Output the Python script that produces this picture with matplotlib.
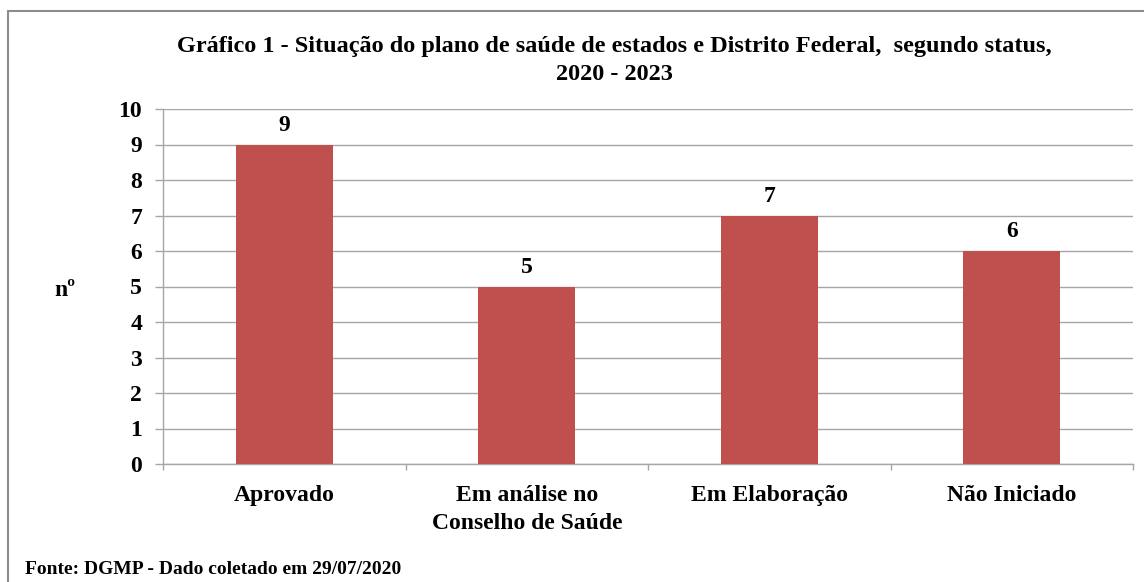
import numpy as np
import matplotlib.pyplot as plt
from matplotlib.patches import Rectangle

# dados
categorias = ['Aprovado', 'Em análise no\nConselho de Saúde', 'Em Elaboração', 'Não Iniciado']
valores = [9, 5, 7, 6]
y_ticks = list(range(0, 11))

titulo = 'Gráfico 1 - Situação do plano de saúde de estados e Distrito Federal,  segundo status,\n2020 - 2023'
fonte = 'Fonte: DGMP - Dado coletado em 29/07/2020'

plt.rcParams['font.family'] = ['Liberation Serif', 'DejaVu Serif']
plt.rcParams['font.weight'] = 'bold'

cor_barra = '#C0504D'
cinza = '#a6a6a6'

fig = plt.figure(figsize=(11.44, 5.82), dpi=100)
ax = fig.add_axes([163 / 1144, 1 - 464 / 582, 970 / 1144, 355 / 582])

x = np.arange(len(categorias))
barras = ax.bar(x, valores, width=0.4, color=cor_barra, zorder=3)
for xi, v in zip(x, valores):
    ax.text(xi, v + 0.25, str(v), ha='center', va='bottom', fontsize=17, fontweight='bold')

ax.set_xlim(-0.5, len(categorias) - 0.5)
ax.set_ylim(0, 10)
ax.set_yticks(y_ticks)
ax.set_yticklabels([str(t) for t in y_ticks], fontsize=17, fontweight='bold')
ax.set_xticks(x)
ax.set_xticklabels(categorias, fontsize=17, fontweight='bold', linespacing=1.45)
ax.set_xticks(np.arange(-0.5, len(categorias)), minor=True)

ax.tick_params(axis='y', length=6, width=1, color=cinza, pad=9)
ax.tick_params(axis='x', which='major', length=0, pad=15)
ax.tick_params(axis='x', which='minor', length=4, width=1, color=cinza)

ax.grid(axis='y', color=cinza, linewidth=1, zorder=0)
for s in ['top', 'right']:
    ax.spines[s].set_visible(False)
for s in ['left', 'bottom']:
    ax.spines[s].set_color(cinza)
    ax.spines[s].set_linewidth(1)

fig.text(65 / 1144, 1 - 290 / 582, 'nº', ha='center', va='center', fontsize=17, fontweight='bold')
fig.text(614 / 1144, 1 - 36 / 582, titulo, ha='center', va='top', fontsize=17.5,
         fontweight='bold', linespacing=1.45)
fig.text(25 / 1144, 1 - 570 / 582, fonte, ha='left', va='center', fontsize=14, fontweight='bold')

# borda externa
fig.patches.append(Rectangle((8 / 1144, -0.1), 2, (582 - 11) / 582 + 0.1,
                             transform=fig.transFigure, fill=False,
                             edgecolor='#8c8c8c', linewidth=1.5))

fig.savefig('out.png', dpi=100)
